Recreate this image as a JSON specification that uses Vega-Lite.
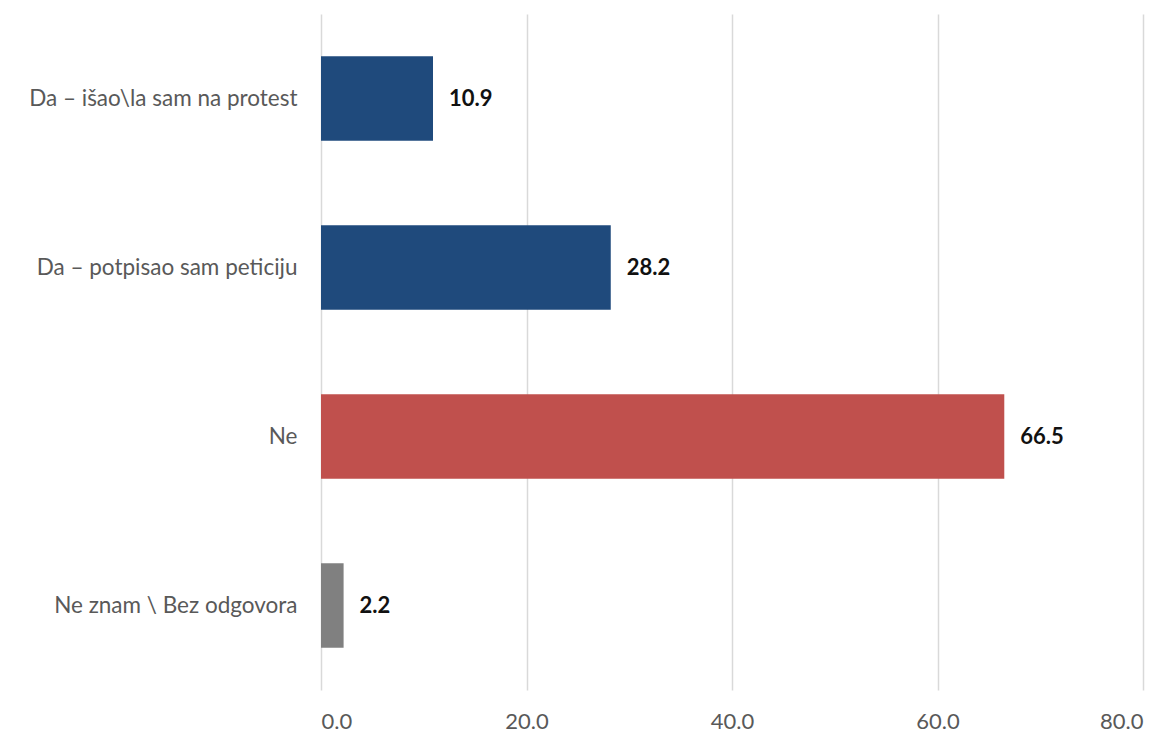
{
  "$schema": "https://vega.github.io/schema/vega-lite/v6.json",
  "width": 822,
  "height": 676,
  "autosize": {"type": "none"},
  "padding": {"left": 321, "top": 14, "right": 28, "bottom": 57},
  "background": "white",
  "config": {"view": {"stroke": null}, "font": "Lato"},
  "data": {"values": [
    {"category": "Da – išao\\la sam na protest", "value": 10.9, "group": "da"},
    {"category": "Da – potpisao sam peticiju", "value": 28.2, "group": "da"},
    {"category": "Ne", "value": 66.5, "group": "ne"},
    {"category": "Ne znam \\ Bez odgovora", "value": 2.2, "group": "nz"}
  ]},
  "encoding": {
    "y": {"field": "category", "type": "nominal", "sort": null,
      "scale": {"paddingInner": 0.5, "paddingOuter": 0.25},
      "axis": {"title": null, "domain": false, "ticks": false, "labelFontSize": 22.5, "labelColor": "#595959", "labelPadding": 24, "labelLimit": 0, "labelFont": "Lato"}},
    "x": {"field": "value", "type": "quantitative",
      "scale": {"domain": [0, 80]},
      "axis": {"title": null, "values": [0, 20, 40, 60, 80], "format": ".1f", "domain": false, "ticks": false, "grid": true, "gridColor": "#d9d9d9", "gridWidth": 1.5, "labelFontSize": 22, "labelColor": "#595959", "labelPadding": 21, "labelFont": "Lato"}}
  },
  "layer": [
    {"mark": {"type": "bar"},
     "encoding": {"color": {"field": "group", "type": "nominal", "legend": null,
       "scale": {"domain": ["da", "ne", "nz"], "range": ["#1f4a7c", "#c0504d", "#808080"]}}}},
    {"mark": {"type": "text", "align": "left", "dx": 16, "fontSize": 22, "fontWeight": "bold", "color": "#111111", "font": "Lato"},
     "encoding": {"text": {"field": "value", "type": "quantitative", "format": ".1f"}}}
  ]
}
